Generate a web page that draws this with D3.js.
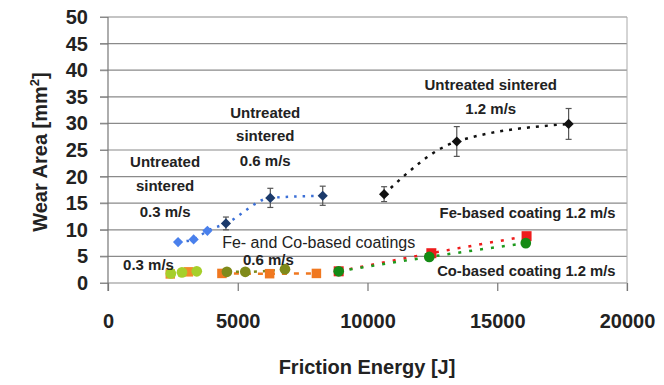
<!DOCTYPE html>
<html><head><meta charset="utf-8">
<script src="https://cdn.jsdelivr.net/npm/d3@7"></script>
<style>
body{margin:0;background:#fff;}
text{font-family:"Liberation Sans",Arial,sans-serif;}
</style></head>
<body><svg id="c" width="664" height="385"></svg>
<script>
// ---- data ----
const xTicks = [0, 5000, 10000, 15000, 20000];
const yTicks = [0, 5, 10, 15, 20, 25, 30, 35, 40, 45, 50];

const untreated03X = [2700, 3300, 3830];
const untreated03Y = [7.7, 8.2, 9.8];
const untreated06X = [4545, 6255, 8274];
const untreated06Y = [11.2, 16.0, 16.4];
const untreated06Err = [1.2, 1.8, 1.8];
const untreated12X = [10640, 13440, 17750];
const untreated12Y = [16.7, 26.6, 29.9];
const untreated12Err = [1.4, 2.8, 2.9];

const fe03X = [2400, 3100];
const fe03Y = [1.7, 2.1];
const co03X = [2420, 2850, 3420];
const co03Y = [1.8, 2.0, 2.2];

const fe06X = [4390, 6228, 8031];
const fe06Y = [1.8, 1.75, 1.8];
const co06X = [4583, 5290, 6820];
const co06Y = [2.1, 2.1, 2.6];

const fe12X = [8890, 12460, 16130];
const fe12Y = [2.2, 5.6, 8.8];
const co12X = [8890, 12380, 16100];
const co12Y = [2.2, 4.9, 7.5];

const labels = [
  {t:"Untreated", x:2200, y:22.5, k:"b"},
  {t:"sintered", x:2200, y:18, k:"b"},
  {t:"0.3 m/s", x:2200, y:13.1, k:"b"},
  {t:"Untreated", x:6060, y:31.8, k:"b"},
  {t:"sintered", x:6060, y:27.5, k:"b"},
  {t:"0.6 m/s", x:6060, y:22.8, k:"b"},
  {t:"Untreated sintered", x:14750, y:37.1, k:"b"},
  {t:"1.2 m/s", x:14750, y:32.6, k:"b"},
  {t:"Fe-based coating 1.2 m/s", x:19560, y:12.9, k:"r", a:"end"},
  {t:"Fe- and Co-based coatings", x:4400, y:7.4, k:"n", a:"start"},
  {t:"0.6 m/s", x:6180, y:4.1, k:"b"},
  {t:"0.3 m/s", x:580, y:3.2, k:"b", a:"start"},
  {t:"Co-based coating 1.2 m/s", x:19560, y:2.1, k:"r", a:"end"}
];

// ---- layout ----
const svg = d3.select("#c");
const L = 108, R = 627, T = 17, B = 283;
const x = d3.scaleLinear().domain([0, 20000]).range([L, R]);
const y = d3.scaleLinear().domain([0, 50]).range([B, T]);

// gridlines
svg.append("g").selectAll("line").data(yTicks).join("line")
  .attr("x1", L - 8).attr("x2", R).attr("y1", d => y(d)).attr("y2", d => y(d))
  .attr("stroke", "#8a8a8a").attr("stroke-width", 1.2);
svg.append("line").attr("x1", R).attr("x2", R).attr("y1", T).attr("y2", B + 8)
  .attr("stroke", "#aaa").attr("stroke-width", 1);

// axes
const yAxis = d3.axisLeft(y).tickValues(yTicks).tickSize(8).tickPadding(12);
const gy = svg.append("g").attr("transform", `translate(${L},0)`).call(yAxis);
gy.select(".domain").remove();
gy.append("line").attr("x1", 0).attr("x2", 0).attr("y1", T).attr("y2", B + 8).attr("stroke", "#777").attr("stroke-width", 1.2);
gy.selectAll(".tick line").attr("stroke", "#8a8a8a");
gy.selectAll(".tick text").attr("font-size", 20).attr("font-weight", "bold").attr("fill", "#222").attr("x", -20);

const xAxis = d3.axisBottom(x).tickValues(xTicks).tickSize(8).tickPadding(23).tickFormat(d3.format("d"));
const gx = svg.append("g").attr("transform", `translate(0,${B})`).call(xAxis);
gx.select(".domain").remove();
gx.selectAll(".tick line").attr("stroke", "#777").attr("stroke-width", 1.2);
gx.selectAll("text").attr("font-size", 20).attr("font-weight", "bold").attr("fill", "#222");

// axis titles
svg.append("text").attr("x", 367).attr("y", 374).attr("text-anchor", "middle")
  .attr("font-size", 20).attr("font-weight", "bold").attr("fill", "#222").text("Friction Energy [J]");
const yt = svg.append("text").attr("transform", "translate(47,152) rotate(-90)").attr("text-anchor", "middle")
  .attr("font-size", 20).attr("font-weight", "bold").attr("fill", "#222");
yt.append("tspan").text("Wear Area [mm");
yt.append("tspan").attr("dy", -8).attr("font-size", 13).text("2");
yt.append("tspan").attr("dy", 8).text("]");

// lines
const line = d3.line().x(d => x(d[0])).y(d => y(d[1])).curve(d3.curveMonotoneX);
const zip = (a, b) => a.map((v, i) => [v, b[i]]);
function drawLine(pts, color, dash, w) {
  svg.append("path").attr("d", line(pts)).attr("fill", "none").attr("stroke", color)
    .attr("stroke-width", w || 2.5).attr("stroke-dasharray", dash);
}
drawLine(zip(untreated03X.concat(untreated06X), untreated03Y.concat(untreated06Y)), "#3b6fd6", "2.5,6");
drawLine(zip(untreated12X, untreated12Y), "#111", "3,6");
drawLine(zip(fe06X, fe06Y), "#f07820", "5,7");
drawLine(zip(co06X, co06Y), "#7f8a1a", "3,6");
drawLine(zip(fe12X, fe12Y), "#ee1c1c", "3,8");
drawLine(zip(co12X, co12Y), "#1e9a1e", "3,8");

// error bars
function errBars(xs, ys, es, color) {
  const g = svg.append("g").attr("stroke", color).attr("stroke-width", 1.2);
  xs.forEach((v, i) => {
    const cx = x(v), y1 = y(ys[i] + es[i]), y2 = y(ys[i] - es[i]);
    g.append("line").attr("x1", cx).attr("x2", cx).attr("y1", y1).attr("y2", y2);
    g.append("line").attr("x1", cx - 3).attr("x2", cx + 3).attr("y1", y1).attr("y2", y1);
    g.append("line").attr("x1", cx - 3).attr("x2", cx + 3).attr("y1", y2).attr("y2", y2);
  });
}
errBars(untreated06X, untreated06Y, untreated06Err, "#555");
errBars(untreated12X, untreated12Y, untreated12Err, "#555");

// markers
function markers(xs, ys, type, color, size, rot) {
  const sym = d3.symbol().type(type).size(size);
  svg.append("g").selectAll("path").data(zip(xs, ys)).join("path")
    .attr("transform", d => `translate(${x(d[0])},${y(d[1])}) rotate(${rot || 0})`)
    .attr("d", sym).attr("fill", color);
}
markers(untreated03X, untreated03Y, d3.symbolSquare, "#4a80ec", 52, 45);
markers(untreated06X, untreated06Y, d3.symbolSquare, "#1b3a6b", 52, 45);
markers(untreated12X, untreated12Y, d3.symbolSquare, "#111", 52, 45);
markers(fe03X, fe03Y, d3.symbolSquare, "#f28a2a", 90);
markers(co03X, co03Y, d3.symbolCircle, "#a6cf2a", 90);
markers(fe06X, fe06Y, d3.symbolSquare, "#f07820", 90);
markers(co06X, co06Y, d3.symbolCircle, "#7f8a1a", 90);
markers(fe12X, fe12Y, d3.symbolSquare, "#ee1c1c", 100);
markers(co12X, co12Y, d3.symbolCircle, "#158a15", 90);

// labels
svg.append("g").selectAll("text").data(labels).join("text")
  .attr("x", d => x(d.x)).attr("y", d => y(d.y))
  .attr("text-anchor", d => d.a || "middle").attr("dominant-baseline", "middle")
  .attr("font-size", d => d.k === "n" ? 16 : (d.k === "r" ? 14.8 : 15))
  .attr("font-weight", d => d.k === "n" ? "normal" : "bold")
  .attr("fill", "#222")
  .text(d => d.t);
</script>
</body></html>
